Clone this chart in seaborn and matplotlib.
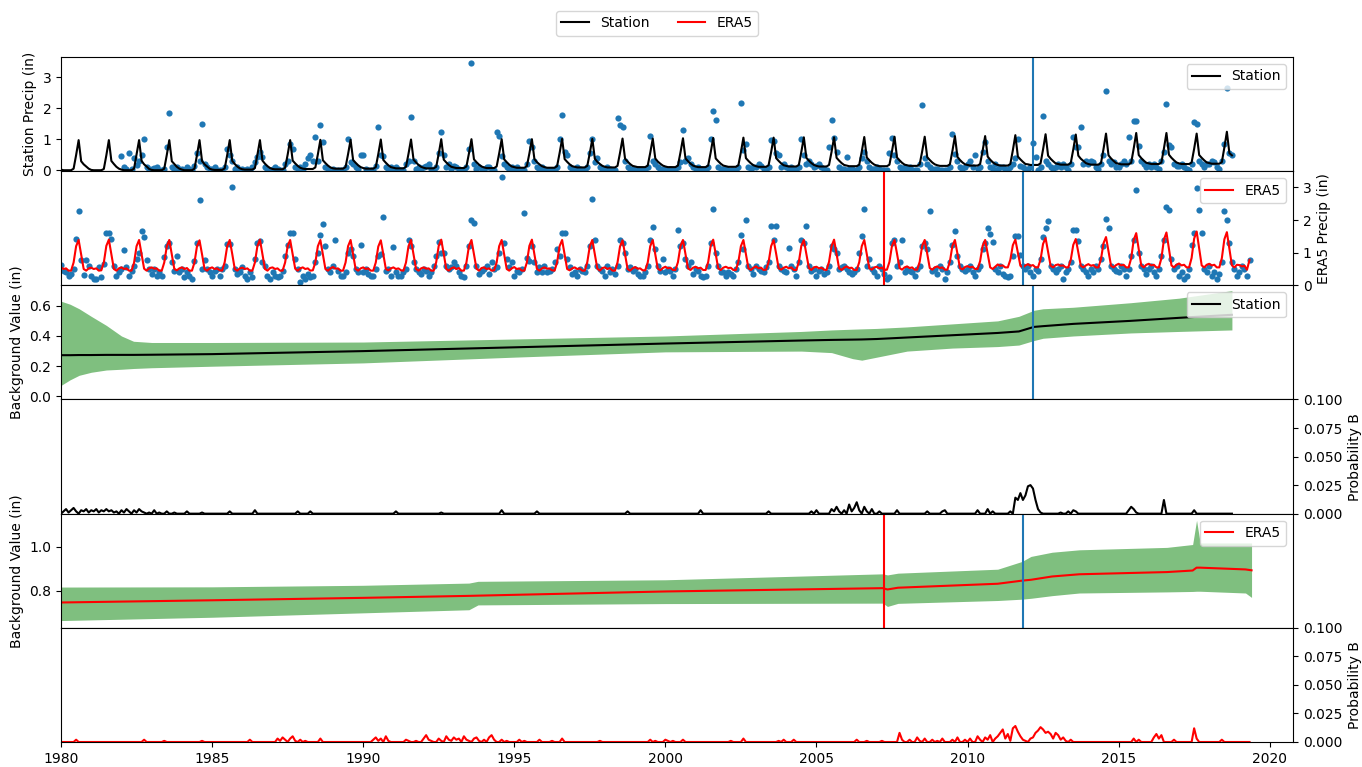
import numpy as np
import pandas as pd
import matplotlib
matplotlib.use("Agg")
import matplotlib.pyplot as plt
from matplotlib.lines import Line2D
import seaborn as sns

# ── Monthly series (one row per year, Jan..Dec) ───────────────────
STA_LINE_START = 1980
sta_line = [
    [0.02, 0, 0, 0, 0, 0.05, 0.49, 0.97, 0.29, 0.19, 0.12, 0.05],
    [0.01, 0, 0, 0, 0, 0.04, 0.48, 0.97, 0.30, 0.20, 0.11, 0.05],
    [0.02, 0, 0, 0, 0, 0.05, 0.50, 0.97, 0.30, 0.19, 0.12, 0.04],
    [0.01, 0, 0, 0, 0, 0.05, 0.49, 0.97, 0.29, 0.20, 0.11, 0.05],
    [0.02, 0, 0, 0, 0, 0.05, 0.49, 0.97, 0.30, 0.19, 0.12, 0.05],
    [0.02, 0.01, 0.01, 0.01, 0.01, 0.06, 0.49, 0.97, 0.30, 0.20, 0.12, 0.06],
    [0.03, 0.02, 0.02, 0.02, 0.02, 0.07, 0.50, 0.97, 0.31, 0.21, 0.13, 0.07],
    [0.04, 0.03, 0.03, 0.03, 0.03, 0.08, 0.50, 0.97, 0.31, 0.22, 0.14, 0.08],
    [0.05, 0.04, 0.04, 0.04, 0.04, 0.09, 0.51, 0.98, 0.32, 0.23, 0.15, 0.09],
    [0.06, 0.05, 0.05, 0.05, 0.05, 0.10, 0.52, 0.98, 0.33, 0.24, 0.16, 0.10],
    [0.07, 0.05, 0.05, 0.05, 0.05, 0.10, 0.52, 0.99, 0.33, 0.24, 0.16, 0.10],
    [0.08, 0.06, 0.06, 0.06, 0.06, 0.11, 0.53, 0.99, 0.34, 0.25, 0.17, 0.11],
    [0.08, 0.06, 0.06, 0.06, 0.06, 0.11, 0.53, 1.00, 0.34, 0.25, 0.17, 0.11],
    [0.09, 0.07, 0.07, 0.07, 0.07, 0.12, 0.54, 1.00, 0.35, 0.26, 0.18, 0.12],
    [0.09, 0.07, 0.07, 0.07, 0.07, 0.12, 0.54, 1.00, 0.35, 0.26, 0.18, 0.12],
    [0.10, 0.08, 0.08, 0.08, 0.08, 0.13, 0.54, 1.00, 0.36, 0.26, 0.19, 0.13],
    [0.10, 0.08, 0.08, 0.08, 0.08, 0.13, 0.55, 1.01, 0.36, 0.27, 0.19, 0.13],
    [0.11, 0.09, 0.09, 0.09, 0.09, 0.14, 0.55, 1.01, 0.37, 0.27, 0.20, 0.14],
    [0.11, 0.09, 0.09, 0.09, 0.09, 0.14, 0.56, 1.02, 0.37, 0.28, 0.20, 0.14],
    [0.12, 0.10, 0.10, 0.10, 0.10, 0.15, 0.56, 1.02, 0.38, 0.28, 0.21, 0.15],
    [0.12, 0.10, 0.10, 0.10, 0.10, 0.15, 0.57, 1.03, 0.38, 0.29, 0.21, 0.15],
    [0.12, 0.10, 0.10, 0.10, 0.10, 0.15, 0.57, 1.04, 0.38, 0.29, 0.21, 0.15],
    [0.13, 0.11, 0.11, 0.11, 0.11, 0.16, 0.58, 1.05, 0.39, 0.30, 0.22, 0.16],
    [0.13, 0.11, 0.11, 0.11, 0.11, 0.16, 0.58, 1.05, 0.39, 0.30, 0.22, 0.16],
    [0.14, 0.12, 0.12, 0.12, 0.12, 0.17, 0.59, 1.06, 0.40, 0.31, 0.23, 0.17],
    [0.14, 0.12, 0.12, 0.12, 0.12, 0.17, 0.59, 1.06, 0.40, 0.31, 0.23, 0.17],
    [0.15, 0.13, 0.13, 0.13, 0.13, 0.18, 0.60, 1.07, 0.41, 0.32, 0.24, 0.18],
    [0.15, 0.13, 0.13, 0.13, 0.13, 0.18, 0.61, 1.08, 0.41, 0.32, 0.24, 0.18],
    [0.16, 0.14, 0.14, 0.14, 0.14, 0.19, 0.61, 1.08, 0.42, 0.33, 0.25, 0.19],
    [0.16, 0.14, 0.14, 0.14, 0.14, 0.19, 0.62, 1.10, 0.43, 0.33, 0.25, 0.19],
    [0.17, 0.15, 0.15, 0.15, 0.15, 0.20, 0.63, 1.10, 0.44, 0.34, 0.26, 0.20],
    [0.17, 0.15, 0.15, 0.15, 0.15, 0.20, 0.64, 1.13, 0.44, 0.35, 0.27, 0.20],
    [0.19, 0.17, 0.17, 0.17, 0.17, 0.22, 0.67, 1.16, 0.47, 0.37, 0.29, 0.22],
    [0.20, 0.18, 0.18, 0.18, 0.18, 0.23, 0.67, 1.15, 0.47, 0.37, 0.30, 0.23],
    [0.20, 0.18, 0.18, 0.18, 0.18, 0.23, 0.68, 1.18, 0.48, 0.38, 0.30, 0.23],
    [0.21, 0.19, 0.19, 0.19, 0.19, 0.24, 0.70, 1.20, 0.49, 0.39, 0.31, 0.24],
    [0.22, 0.20, 0.20, 0.20, 0.20, 0.25, 0.70, 1.20, 0.50, 0.40, 0.32, 0.25],
    [0.22, 0.20, 0.20, 0.20, 0.20, 0.25, 0.69, 1.18, 0.49, 0.40, 0.32, 0.25],
    [0.23, 0.21, 0.21, 0.21, 0.21, 0.26, 0.73, 1.24, 0.55, 0.48],
]

STA_OBS_START = 1982
sta_obs = [
    [0.46, 0.10, 0.05, 0.57, 0.05, 0.38, 0.16, 0.30, 0.48, 1.01, 0.10, 0.05],
    [0.05, 0.08, 0.10, 0.02, 0.00, 0.05, 0.75, 1.86, 0.10, 0.05, 0.10, 0.05],
    [0.05, 0.00, 0.10, 0.05, 0.00, 0.15, 0.54, 0.30, 1.48, 0.20, 0.10, 0.05],
    [0.05, 0.10, 0.02, 0.00, 0.00, 0.10, 0.70, 0.48, 0.30, 0.05, 0.10, 0.02],
    [0.05, 0.02, 0.05, 0.00, 0.10, 0.27, 0.43, 0.60, 0.43, 0.10, 0.05, 0.02],
    [0.05, 0.10, 0.05, 0.00, 0.00, 0.20, 0.30, 0.86, 0.70, 0.10, 0.05, 0.10],
    [0.05, 0.20, 0.38, 0.48, 0.30, 1.06, 0.30, 1.45, 0.90, 0.10, 0.05, 0.02],
    [0.05, 0.00, 0.02, 0.00, 0.00, 0.10, 1.00, 0.27, 0.20, 0.10, 0.05, 0.50],
    [0.50, 0.05, 0.02, 0.00, 0.00, 0.15, 1.39, 0.50, 0.45, 0.10, 0.05, 0.10],
    [0.05, 0.10, 0.05, 0.00, 0.00, 0.20, 0.30, 1.72, 0.30, 0.05, 0.10, 0.05],
    [0.10, 0.15, 0.20, 0.05, 0.00, 0.10, 0.55, 1.24, 0.48, 0.10, 0.20, 0.05],
    [0.15, 0.10, 0.05, 0.00, 0.00, 0.10, 0.70, 3.47, 0.20, 0.05, 0.10, 0.05],
    [0.05, 0.10, 0.10, 0.00, 0.00, 1.24, 1.10, 0.45, 0.20, 0.10, 0.05, 0.10],
    [0.05, 0.10, 0.02, 0.00, 0.00, 0.20, 0.95, 0.75, 0.30, 0.10, 0.05, 0.10],
    [0.05, 0.02, 0.00, 0.00, 0.00, 0.10, 1.00, 1.77, 0.60, 0.50, 0.10, 0.05],
    [0.05, 0.10, 0.05, 0.00, 0.00, 0.10, 0.55, 1.00, 0.25, 0.40, 0.10, 0.05],
    [0.05, 0.10, 0.05, 0.02, 0.00, 1.67, 1.45, 1.40, 0.30, 0.10, 0.05, 0.05],
    [0.02, 0.05, 0.00, 0.00, 0.00, 0.10, 1.10, 0.30, 0.20, 0.10, 0.05, 0.05],
    [0.05, 0.02, 0.05, 0.00, 0.00, 0.10, 0.27, 1.31, 0.30, 0.40, 0.20, 0.10],
    [0.05, 0.10, 0.05, 0.00, 0.00, 0.10, 1.02, 1.90, 1.63, 0.10, 0.05, 0.05],
    [0.05, 0.02, 0.00, 0.00, 0.00, 0.10, 2.18, 0.65, 0.83, 0.10, 0.05, 0.10],
    [0.10, 0.20, 0.15, 0.05, 0.00, 0.10, 0.97, 0.94, 0.57, 0.48, 0.10, 0.20],
    [0.10, 0.05, 0.10, 0.05, 0.00, 0.10, 1.02, 0.48, 0.20, 0.30, 0.20, 0.10],
    [0.15, 0.20, 0.10, 0.05, 0.00, 0.75, 1.63, 1.05, 0.60, 0.10, 0.05, 0.05],
    [0.43, 0.05, 0.05, 0.02, 0.00, 0.10, 0.40, 0.60, 0.30, 0.10, 0.05, 0.05],
    [0.10, 0.05, 0.02, 0.00, 0.00, 0.54, 1.04, 0.50, 0.30, 0.10, 0.05, 0.10],
    [0.05, 0.10, 0.02, 0.00, 0.00, 0.20, 2.10, 0.40, 0.20, 0.10, 0.05, 0.05],
    [0.05, 0.02, 0.00, 0.00, 0.00, 0.10, 1.18, 0.52, 0.30, 0.10, 0.05, 0.10],
    [0.20, 0.30, 0.10, 0.48, 0.05, 0.10, 0.60, 0.90, 0.30, 0.10, 0.05, 0.20],
    [0.05, 0.10, 0.10, 0.05, 0.00, 0.10, 0.20, 0.40, 1.00, 0.15, 0.10, 0.05],
    [0.05, 0.10, 0.88, 0.43, 0.00, 0.10, 1.74, 0.30, 0.20, 0.10, 0.05, 0.10],
    [0.20, 0.10, 0.20, 0.10, 0.00, 0.20, 1.08, 0.75, 0.75, 1.39, 0.20, 0.30],
    [0.20, 0.30, 0.25, 0.10, 0.05, 0.20, 0.50, 2.55, 0.30, 0.20, 0.25, 0.10],
    [0.10, 0.20, 0.30, 0.20, 1.08, 0.30, 1.59, 1.60, 0.78, 0.30, 0.20, 0.10],
    [0.20, 0.10, 0.20, 0.10, 0.05, 0.30, 0.60, 2.13, 0.80, 0.75, 0.20, 0.15],
    [0.15, 0.20, 0.10, 0.05, 0.00, 0.20, 1.56, 1.48, 0.30, 0.20, 0.10, 0.20],
    [0.20, 0.30, 0.25, 0.10, 0.05, 0.30, 0.86, 2.66, 0.54, 0.50],
]

ERA_START = 1980
era_line = [
    [0.55, 0.50, 0.52, 0.45, 0.45, 0.70, 1.20, 1.39, 0.95, 0.50, 0.45, 0.52],
    [0.54, 0.50, 0.52, 0.45, 0.46, 0.70, 1.21, 1.40, 0.95, 0.50, 0.45, 0.52],
    [0.55, 0.50, 0.52, 0.45, 0.45, 0.69, 1.20, 1.39, 0.94, 0.51, 0.45, 0.52],
    [0.55, 0.51, 0.52, 0.45, 0.45, 0.70, 1.19, 1.39, 0.95, 0.50, 0.46, 0.52],
    [0.55, 0.50, 0.53, 0.45, 0.45, 0.70, 1.20, 1.38, 0.95, 0.50, 0.45, 0.52],
    [0.55, 0.50, 0.52, 0.46, 0.45, 0.71, 1.20, 1.39, 0.96, 0.50, 0.45, 0.52],
    [0.54, 0.50, 0.52, 0.45, 0.45, 0.70, 1.21, 1.40, 0.95, 0.50, 0.45, 0.53],
    [0.55, 0.50, 0.52, 0.45, 0.45, 0.70, 1.20, 1.39, 0.95, 0.51, 0.45, 0.52],
    [0.55, 0.50, 0.52, 0.45, 0.46, 0.70, 1.20, 1.39, 0.94, 0.50, 0.45, 0.52],
    [0.56, 0.51, 0.52, 0.45, 0.45, 0.70, 1.20, 1.39, 0.95, 0.50, 0.45, 0.52],
    [0.55, 0.50, 0.52, 0.45, 0.45, 0.70, 1.19, 1.38, 0.95, 0.50, 0.46, 0.52],
    [0.55, 0.50, 0.52, 0.46, 0.45, 0.70, 1.20, 1.39, 0.95, 0.50, 0.45, 0.52],
    [0.55, 0.51, 0.52, 0.45, 0.45, 0.71, 1.21, 1.40, 0.96, 0.50, 0.45, 0.52],
    [0.55, 0.50, 0.53, 0.45, 0.45, 0.70, 1.20, 1.39, 0.95, 0.51, 0.45, 0.53],
    [0.55, 0.50, 0.52, 0.45, 0.46, 0.70, 1.20, 1.39, 0.95, 0.50, 0.45, 0.52],
    [0.56, 0.50, 0.52, 0.45, 0.45, 0.70, 1.21, 1.40, 0.95, 0.50, 0.45, 0.52],
    [0.55, 0.51, 0.52, 0.46, 0.45, 0.70, 1.20, 1.39, 0.94, 0.50, 0.46, 0.52],
    [0.55, 0.50, 0.52, 0.45, 0.45, 0.71, 1.20, 1.39, 0.95, 0.51, 0.45, 0.53],
    [0.55, 0.50, 0.53, 0.45, 0.45, 0.70, 1.19, 1.38, 0.95, 0.50, 0.45, 0.52],
    [0.56, 0.51, 0.52, 0.46, 0.46, 0.70, 1.20, 1.39, 0.95, 0.51, 0.46, 0.53],
    [0.57, 0.52, 0.54, 0.47, 0.47, 0.71, 1.20, 1.39, 0.96, 0.52, 0.47, 0.54],
    [0.57, 0.52, 0.54, 0.47, 0.47, 0.71, 1.21, 1.40, 0.96, 0.52, 0.47, 0.54],
    [0.57, 0.53, 0.54, 0.47, 0.47, 0.72, 1.20, 1.39, 0.96, 0.52, 0.47, 0.54],
    [0.58, 0.52, 0.54, 0.47, 0.48, 0.71, 1.20, 1.39, 0.97, 0.52, 0.48, 0.54],
    [0.57, 0.52, 0.55, 0.47, 0.47, 0.71, 1.21, 1.39, 0.96, 0.53, 0.47, 0.55],
    [0.57, 0.52, 0.54, 0.48, 0.47, 0.72, 1.20, 1.40, 0.96, 0.52, 0.47, 0.54],
    [0.58, 0.53, 0.54, 0.47, 0.47, 0.71, 1.20, 1.39, 0.96, 0.52, 0.48, 0.55],
    [0.57, 0.52, 0.54, 0.47, 0.48, 0.72, 1.21, 1.39, 0.97, 0.53, 0.48, 0.55],
    [0.58, 0.53, 0.55, 0.48, 0.48, 0.72, 1.21, 1.39, 0.97, 0.53, 0.48, 0.55],
    [0.58, 0.53, 0.55, 0.48, 0.48, 0.73, 1.21, 1.39, 0.97, 0.53, 0.49, 0.56],
    [0.59, 0.55, 0.57, 0.50, 0.50, 0.74, 1.21, 1.39, 0.97, 0.55, 0.50, 0.57],
    [0.64, 0.60, 0.61, 0.55, 0.55, 0.78, 1.23, 1.40, 1.00, 0.60, 0.55, 0.61],
    [0.65, 0.60, 0.62, 0.55, 0.55, 0.79, 1.27, 1.45, 1.03, 0.60, 0.55, 0.62],
    [0.64, 0.60, 0.61, 0.55, 0.55, 0.78, 1.24, 1.42, 1.01, 0.60, 0.55, 0.61],
    [0.65, 0.60, 0.62, 0.55, 0.55, 0.80, 1.29, 1.48, 1.04, 0.60, 0.55, 0.62],
    [0.66, 0.61, 0.63, 0.55, 0.55, 0.83, 1.39, 1.60, 1.11, 0.61, 0.55, 0.63],
    [0.66, 0.61, 0.63, 0.55, 0.55, 0.83, 1.40, 1.62, 1.12, 0.61, 0.55, 0.63],
    [0.67, 0.61, 0.63, 0.55, 0.55, 0.84, 1.43, 1.65, 1.14, 0.61, 0.55, 0.63],
    [0.66, 0.61, 0.63, 0.55, 0.55, 0.83, 1.41, 1.63, 1.13, 0.61, 0.55, 0.63],
    [0.62, 0.58, 0.60, 0.48, 0.78],
]

era_obs = [
    [0.62, 0.45, 0.40, 0.30, 0.35, 0.50, 1.41, 2.27, 0.79, 0.31, 0.78, 0.60],
    [0.30, 0.20, 0.20, 0.55, 0.25, 0.65, 1.61, 1.61, 1.41, 0.60, 0.30, 0.40],
    [0.50, 1.08, 0.55, 0.30, 0.45, 0.60, 0.80, 1.00, 1.66, 1.47, 0.78, 0.50],
    [0.35, 0.50, 0.30, 0.40, 0.30, 0.88, 1.20, 1.30, 0.70, 0.45, 0.90, 0.40],
    [0.50, 0.25, 0.40, 0.30, 0.20, 0.75, 1.30, 2.61, 0.50, 0.78, 0.50, 0.40],
    [0.30, 0.45, 0.50, 0.30, 0.50, 0.60, 1.28, 1.28, 3.00, 0.50, 0.35, 0.40],
    [0.55, 0.30, 0.20, 0.40, 0.25, 0.80, 1.30, 1.35, 0.70, 0.60, 0.30, 0.20],
    [0.40, 0.30, 0.25, 0.30, 0.45, 0.90, 1.25, 1.61, 1.61, 0.80, 0.50, 0.10],
    [0.30, 0.20, 0.35, 0.25, 0.30, 0.70, 1.00, 1.55, 1.87, 1.20, 0.50, 0.40],
    [0.60, 1.38, 0.45, 0.30, 0.30, 0.40, 1.00, 1.10, 0.90, 0.50, 0.40, 1.25],
    [0.40, 0.50, 0.35, 0.30, 0.30, 0.50, 0.90, 0.95, 2.08, 0.45, 0.50, 0.30],
    [1.18, 0.40, 0.30, 0.30, 0.40, 0.50, 1.40, 1.20, 0.70, 0.50, 0.40, 0.35],
    [0.50, 0.45, 0.30, 0.40, 0.60, 0.90, 1.33, 1.00, 1.00, 0.60, 0.50, 0.55],
    [0.70, 0.60, 0.40, 0.30, 0.25, 0.60, 1.20, 2.00, 1.90, 0.60, 0.35, 0.45],
    [0.50, 0.60, 0.35, 0.70, 0.50, 0.55, 1.00, 3.32, 1.30, 0.80, 0.55, 0.70],
    [0.30, 0.45, 0.40, 0.50, 2.22, 0.85, 0.75, 1.20, 0.70, 0.40, 0.55, 0.40],
    [0.60, 0.40, 0.45, 0.50, 0.70, 1.10, 0.90, 1.60, 1.60, 0.80, 0.55, 0.35],
    [0.40, 0.30, 0.50, 0.45, 0.40, 0.60, 1.20, 2.64, 1.40, 0.60, 0.50, 0.45],
    [0.30, 0.60, 0.40, 0.50, 0.35, 0.60, 1.40, 1.30, 1.00, 0.50, 0.55, 0.45],
    [0.50, 0.35, 0.30, 0.30, 0.40, 0.60, 1.40, 1.79, 1.10, 0.60, 0.45, 0.80],
    [0.40, 0.50, 0.45, 0.30, 0.50, 1.71, 1.20, 1.30, 0.80, 0.60, 0.70, 0.35],
    [0.50, 0.45, 0.30, 0.25, 0.30, 0.60, 1.30, 2.35, 1.00, 0.60, 0.40, 0.40],
    [0.30, 0.40, 0.35, 0.30, 0.50, 0.70, 1.54, 1.10, 2.00, 0.60, 0.50, 0.35],
    [0.60, 0.50, 0.45, 0.40, 0.55, 0.70, 1.82, 1.40, 1.82, 0.60, 0.50, 0.45],
    [0.40, 1.15, 0.60, 0.50, 0.30, 0.70, 1.40, 1.30, 1.82, 0.60, 0.45, 0.50],
    [0.30, 0.45, 0.50, 0.35, 0.40, 0.60, 1.20, 1.10, 1.00, 0.50, 0.55, 0.60],
    [0.50, 0.40, 0.35, 0.40, 0.50, 1.00, 1.50, 2.35, 0.60, 0.80, 0.50, 0.40],
    [0.30, 0.60, 0.50, 0.35, 0.20, 0.25, 1.30, 1.40, 0.60, 0.70, 1.40, 0.40],
    [0.50, 0.45, 0.40, 0.30, 0.50, 0.60, 1.20, 1.30, 1.10, 2.28, 0.45, 0.50],
    [0.35, 0.60, 0.50, 0.20, 0.40, 0.70, 1.25, 1.66, 0.90, 0.60, 0.50, 0.45],
    [0.50, 0.60, 0.40, 0.30, 0.50, 0.60, 1.10, 1.30, 1.76, 1.58, 1.34, 0.50],
    [0.40, 0.60, 0.35, 0.30, 0.25, 0.30, 0.90, 1.50, 1.50, 0.93, 0.60, 0.50],
    [0.60, 0.40, 0.30, 0.50, 0.45, 0.80, 1.48, 1.76, 1.96, 0.60, 0.50, 0.40],
    [0.50, 0.60, 0.20, 0.40, 0.50, 0.70, 1.71, 1.71, 1.35, 0.60, 0.50, 0.40],
    [0.30, 0.50, 0.40, 0.60, 0.50, 0.80, 1.20, 2.04, 1.76, 0.60, 0.50, 0.45],
    [0.40, 0.60, 0.50, 0.30, 0.50, 0.90, 1.40, 2.92, 1.00, 0.60, 0.50, 0.35],
    [0.50, 0.60, 0.40, 0.30, 0.50, 0.90, 1.40, 2.40, 2.30, 0.80, 0.50, 0.60],
    [0.30, 0.40, 0.20, 0.30, 0.50, 1.25, 1.60, 2.98, 2.30, 1.60, 0.50, 0.40],
    [0.60, 0.30, 0.40, 0.20, 0.35, 0.70, 2.27, 2.00, 1.30, 0.70, 0.50, 0.30],
    [0.40, 0.60, 0.50, 0.30, 0.78],
]

# probability of a break, in thousandths
sta_prob_x1000 = [
    [0, 2, 4, 1, 3, 5, 2, 0, 3, 2, 4, 1],
    [3, 2, 4, 1, 3, 2, 4, 2, 3, 1, 2, 0],
    [3, 1, 4, 2, 0, 3, 1, 4, 2, 1, 0, 1],
    [0, 3, 0, 1, 0, 0, 2, 0, 0, 1, 0, 0],
    [0, 0, 2, 0, 0, 0, 0, 0, 1, 0, 0, 0],
    [0, 0, 0, 0, 0, 0, 0, 2, 0, 0, 0, 0],
    [0, 0, 0, 0, 0, 3, 0, 0, 0, 0, 0, 0],
    [0, 0, 0, 0, 0, 0, 0, 0, 0, 0, 2, 0],
    [0, 0, 0, 2, 0, 0, 0, 0, 0, 0, 0, 0],
    [0, 0, 0, 0, 0, 0, 0, 0, 0, 0, 0, 0],
    [0, 0, 0, 0, 0, 0, 0, 0, 0, 0, 0, 0],
    [0, 2, 0, 0, 0, 0, 0, 0, 0, 0, 0, 0],
    [0, 0, 0, 0, 0, 0, 0, 1, 0, 0, 0, 0],
    [0, 0, 0, 0, 0, 0, 0, 0, 0, 0, 0, 0],
    [0, 0, 0, 0, 0, 0, 0, 3, 0, 0, 0, 0],
    [0, 0, 0, 0, 0, 0, 0, 0, 0, 2, 0, 0],
    [0, 0, 0, 0, 0, 0, 0, 0, 0, 0, 0, 0],
    [0, 0, 0, 0, 0, 0, 0, 0, 0, 0, 0, 0],
    [0, 0, 0, 0, 0, 0, 0, 0, 0, 2, 0, 0],
    [0, 0, 0, 0, 0, 0, 0, 0, 0, 0, 0, 0],
    [0, 0, 0, 0, 0, 0, 0, 0, 0, 0, 0, 0],
    [0, 0, 3, 0, 0, 0, 0, 0, 0, 0, 0, 0],
    [0, 0, 0, 0, 0, 0, 0, 0, 0, 0, 0, 0],
    [0, 0, 0, 0, 0, 2, 0, 0, 0, 0, 0, 0],
    [0, 0, 0, 0, 0, 0, 0, 0, 0, 0, 2, 0],
    [3, 0, 0, 0, 0, 0, 4, 2, 6, 2, 0, 3],
    [0, 8, 2, 5, 10, 3, 0, 6, 2, 0, 4, 0],
    [0, 2, 0, 0, 0, 0, 0, 0, 3, 0, 0, 0],
    [0, 0, 0, 0, 0, 0, 0, 0, 2, 0, 0, 0],
    [0, 0, 2, 3, 0, 0, 0, 0, 0, 0, 0, 0],
    [0, 0, 0, 0, 3, 0, 0, 0, 4, 0, 2, 0],
    [0, 0, 0, 0, 0, 2, 0, 14, 12, 18, 12, 16],
    [24, 25, 22, 12, 4, 1, 0, 0, 0, 0, 0, 0],
    [0, 1, 0, 0, 2, 0, 3, 2, 0, 0, 0, 0],
    [0, 0, 0, 0, 0, 0, 0, 0, 0, 0, 0, 0],
    [0, 0, 0, 0, 3, 6, 4, 1, 0, 0, 0, 0],
    [0, 0, 0, 0, 0, 0, 12, 0, 0, 0, 0, 0],
    [0, 0, 0, 0, 0, 0, 3, 0, 0, 0, 0, 0],
    [0, 0, 0, 0, 0, 0, 0, 0, 0, 0],
]

era_prob_x1000 = [
    [0, 0, 0, 0, 0, 0, 2, 0, 0, 0, 0, 0],
    [0, 0, 0, 0, 0, 0, 0, 0, 0, 0, 0, 0],
    [0, 0, 0, 0, 0, 0, 0, 0, 0, 2, 0, 0],
    [0, 0, 0, 0, 0, 1, 0, 0, 0, 0, 0, 0],
    [0, 0, 0, 0, 0, 0, 0, 0, 1, 0, 0, 0],
    [0, 0, 0, 0, 0, 0, 0, 0, 0, 0, 0, 0],
    [0, 0, 0, 2, 0, 0, 0, 0, 0, 0, 0, 0],
    [0, 0, 3, 1, 4, 2, 0, 3, 5, 1, 0, 2],
    [0, 1, 0, 0, 0, 0, 0, 3, 0, 0, 0, 0],
    [0, 0, 0, 0, 0, 0, 0, 0, 0, 0, 0, 0],
    [0, 0, 0, 0, 2, 4, 1, 3, 0, 5, 1, 0],
    [0, 0, 0, 0, 0, 2, 1, 0, 0, 1, 0, 0],
    [3, 6, 2, 1, 0, 0, 3, 1, 0, 5, 2, 1],
    [4, 2, 3, 0, 5, 2, 1, 0, 3, 4, 1, 0],
    [2, 0, 4, 6, 2, 0, 0, 2, 0, 1, 0, 0],
    [0, 0, 2, 0, 1, 0, 0, 0, 0, 0, 2, 0],
    [0, 0, 0, 1, 0, 0, 0, 3, 0, 0, 0, 0],
    [0, 0, 0, 0, 0, 0, 0, 0, 0, 0, 1, 0],
    [0, 0, 0, 0, 0, 0, 0, 0, 0, 0, 0, 0],
    [0, 0, 0, 0, 0, 0, 2, 0, 1, 0, 0, 0],
    [2, 1, 0, 1, 0, 0, 0, 2, 0, 0, 0, 0],
    [0, 0, 0, 0, 0, 0, 0, 0, 0, 0, 0, 0],
    [0, 0, 1, 0, 0, 0, 0, 3, 0, 0, 0, 0],
    [0, 0, 0, 0, 0, 0, 0, 0, 0, 1, 0, 2],
    [0, 0, 0, 2, 0, 0, 0, 0, 0, 0, 0, 0],
    [0, 0, 0, 0, 0, 0, 0, 0, 0, 0, 0, 0],
    [0, 0, 0, 0, 2, 0, 0, 0, 1, 0, 0, 0],
    [0, 0, 1, 0, 0, 0, 0, 0, 0, 8, 2, 0],
    [0, 2, 0, 0, 4, 1, 0, 3, 0, 0, 2, 0],
    [1, 0, 3, 0, 0, 0, 2, 0, 4, 0, 0, 2],
    [0, 3, 0, 0, 5, 2, 0, 4, 2, 6, 0, 3],
    [5, 8, 11, 3, 7, 1, 12, 14, 9, 5, 2, 1],
    [0, 3, 4, 8, 10, 13, 11, 8, 9, 7, 3, 8],
    [6, 2, 4, 1, 0, 2, 0, 0, 0, 0, 0, 0],
    [0, 0, 0, 0, 0, 0, 0, 0, 0, 0, 0, 0],
    [0, 0, 0, 0, 0, 0, 3, 0, 2, 0, 0, 0],
    [0, 0, 4, 7, 3, 6, 0, 0, 0, 0, 2, 0],
    [0, 0, 0, 0, 0, 0, 12, 3, 0, 0, 0, 0],
    [0, 0, 0, 0, 0, 2, 0, 0, 0, 0, 0, 0],
    [0, 0, 0, 0, 0],
]

# ── Background value with uncertainty band ────────────
sta_bg_year = [1980.0, 1980.3, 1980.6, 1981.0, 1981.5, 1982.0, 1982.4, 1983.0, 1985.0,
               1990.0, 1995.0, 2000.0, 2004.5, 2005.5, 2006.2, 2006.5, 2007.0, 2008.0,
               2009.5, 2011.0, 2011.7, 2012.2, 2012.5, 2013.5, 2015.4, 2017.0, 2018.75]
sta_bg_mid = [0.273, 0.273, 0.274, 0.274, 0.275, 0.275, 0.275, 0.276, 0.280,
              0.300, 0.325, 0.350, 0.370, 0.374, 0.376, 0.377, 0.380, 0.390,
              0.405, 0.420, 0.430, 0.460, 0.465, 0.480, 0.500, 0.520, 0.540]
sta_bg_low = [0.073, 0.110, 0.140, 0.160, 0.175, 0.180, 0.185, 0.190, 0.200,
              0.222, 0.260, 0.295, 0.300, 0.290, 0.250, 0.240, 0.260, 0.300,
              0.320, 0.330, 0.340, 0.370, 0.385, 0.400, 0.420, 0.430, 0.440]
sta_bg_high = [0.630, 0.610, 0.580, 0.530, 0.470, 0.400, 0.365, 0.357, 0.357,
               0.360, 0.380, 0.400, 0.430, 0.440, 0.445, 0.447, 0.450, 0.460,
               0.480, 0.500, 0.530, 0.570, 0.580, 0.590, 0.620, 0.650, 0.700]

era_bg_year = [1980.0, 1985.0, 1990.0, 1993.5, 1993.8, 2000.0, 2007.2, 2007.35, 2007.7,
               2011.0, 2011.8, 2012.1, 2012.8, 2013.7, 2016.6, 2017.45, 2017.58, 2017.7,
               2019.2, 2019.4]
era_bg_mid = [0.747, 0.757, 0.768, 0.777, 0.778, 0.797, 0.812, 0.806, 0.814,
              0.832, 0.846, 0.850, 0.865, 0.875, 0.885, 0.892, 0.905, 0.905,
              0.897, 0.893]
era_bg_low = [0.665, 0.680, 0.700, 0.714, 0.736, 0.742, 0.744, 0.729, 0.743,
              0.756, 0.762, 0.766, 0.778, 0.790, 0.795, 0.797, 0.798, 0.798,
              0.790, 0.770]
era_bg_high = [0.817, 0.818, 0.825, 0.835, 0.843, 0.850, 0.877, 0.872, 0.880,
               0.898, 0.933, 0.956, 0.975, 0.986, 0.997, 1.010, 1.120, 1.017,
               1.017, 1.017]

STA_BREAK = 2012.16
ERA_BREAK_RED = 2007.23
ERA_BREAK_BLUE = 2011.83


def monthly(start, rows, scale=1.0):
    years, vals = [], []
    for i, row in enumerate(rows):
        for m, v in enumerate(row):
            years.append(start + i + m / 12)
            vals.append(v * scale)
    return pd.DataFrame({"year": years, "value": vals})


sta_line_df = monthly(STA_LINE_START, sta_line)
sta_obs_df = monthly(STA_OBS_START, sta_obs)
era_line_df = monthly(ERA_START, era_line)
era_obs_df = monthly(ERA_START, era_obs)
sta_prob_df = monthly(STA_LINE_START, sta_prob_x1000, 0.001)
era_prob_df = monthly(ERA_START, era_prob_x1000, 0.001)
sta_bg = pd.DataFrame({"year": sta_bg_year, "mid": sta_bg_mid, "low": sta_bg_low, "high": sta_bg_high})
era_bg = pd.DataFrame({"year": era_bg_year, "mid": era_bg_mid, "low": era_bg_low, "high": era_bg_high})

# ── Figure ─────────────────────────────────────────────
fig, axes = plt.subplots(6, 1, figsize=(13.62, 7.67), dpi=100, sharex=True)
fig.subplots_adjust(left=0.0448, right=0.9493, top=0.9257, bottom=0.0326, hspace=0)
ax1, ax2, ax3, ax4, ax5, ax6 = axes

# station precip
sns.scatterplot(data=sta_obs_df, x="year", y="value", ax=ax1, color="C0", s=20, linewidth=0)
sns.lineplot(data=sta_line_df, x="year", y="value", ax=ax1, color="black",
             estimator=None, label="Station")
ax1.axvline(STA_BREAK, color="C0")
ax1.set_ylim(-0.03, 3.65)
ax1.set_yticks([0, 1, 2, 3])
ax1.set_ylabel("Station Precip (in)")
ax1.legend(loc="upper right")

# era5 precip
sns.scatterplot(data=era_obs_df, x="year", y="value", ax=ax2, color="C0", s=20, linewidth=0)
sns.lineplot(data=era_line_df, x="year", y="value", ax=ax2, color="red",
             estimator=None, label="ERA5")
ax2.axvline(ERA_BREAK_RED, color="red")
ax2.axvline(ERA_BREAK_BLUE, color="C0")
ax2.set_ylim(0, 3.5)
ax2.set_yticks([0, 1, 2, 3])
ax2.yaxis.tick_right()
ax2.yaxis.set_label_position("right")
ax2.set_ylabel("ERA5 Precip (in)")
ax2.legend(loc="upper right")

# station background
ax3.fill_between(sta_bg["year"], sta_bg["low"], sta_bg["high"], color="green", alpha=0.5, linewidth=0)
sns.lineplot(data=sta_bg, x="year", y="mid", ax=ax3, color="black", estimator=None, label="Station")
ax3.axvline(STA_BREAK, color="C0")
ax3.set_ylim(-0.02, 0.735)
ax3.set_yticks([0.0, 0.2, 0.4, 0.6])
ax3.set_ylabel("Background Value (in)")
ax3.legend(loc="upper right")

# station probability
sns.lineplot(data=sta_prob_df, x="year", y="value", ax=ax4, color="black", estimator=None)
ax4.set_ylim(0, 0.1)
ax4.set_yticks([0, 0.025, 0.05, 0.075, 0.1])
ax4.yaxis.tick_right()
ax4.yaxis.set_label_position("right")
ax4.set_ylabel("Probability B")

# era5 background
ax5.fill_between(era_bg["year"], era_bg["low"], era_bg["high"], color="green", alpha=0.5, linewidth=0)
sns.lineplot(data=era_bg, x="year", y="mid", ax=ax5, color="red", estimator=None, label="ERA5")
ax5.axvline(ERA_BREAK_RED, color="red")
ax5.axvline(ERA_BREAK_BLUE, color="C0")
ax5.set_ylim(0.632, 1.15)
ax5.set_yticks([0.8, 1.0])
ax5.set_ylabel("Background Value (in)")
ax5.legend(loc="upper right")

# era5 probability
sns.lineplot(data=era_prob_df, x="year", y="value", ax=ax6, color="red", estimator=None)
ax6.set_ylim(0, 0.1)
ax6.set_yticks([0, 0.025, 0.05, 0.075, 0.1])
ax6.yaxis.tick_right()
ax6.yaxis.set_label_position("right")
ax6.set_ylabel("Probability B")

for ax in axes:
    ax.set_xlabel("")
    ax.set_xlim(1980, 2020.77)
for ax in axes[:-1]:
    ax.tick_params(axis="x", bottom=False)
ax6.set_xticks(list(range(1980, 2021, 5)))

handles = [Line2D([], [], color="black"), Line2D([], [], color="red")]
fig.legend(handles, ["Station", "ERA5"], loc="upper center", ncol=2,
           bbox_to_anchor=(0.4824, 0.995))

fig.savefig("out.png", dpi=100)
